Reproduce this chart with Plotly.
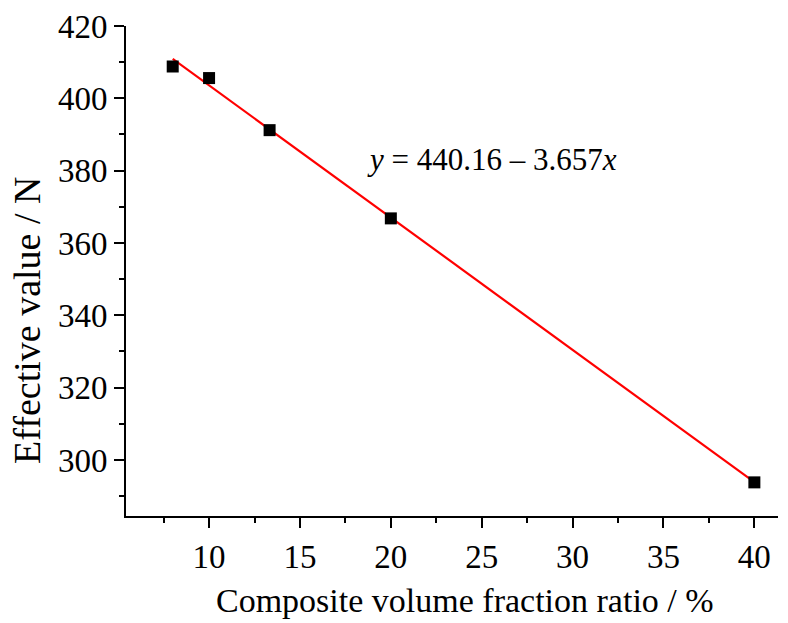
import plotly.graph_objects as go

# Data
x_vals = [8, 10, 13.33, 20, 40]
y_vals = [408.8, 405.6, 391.2, 366.8, 293.8]
intercept = 440.16
slope = -3.657
fit_x = [8, 40]
fit_y = [intercept + slope * v for v in fit_x]
x_ticks = [10, 15, 20, 25, 30, 35, 40]
y_ticks = [300, 320, 340, 360, 380, 400, 420]

FONT = "Liberation Serif, Times New Roman, serif"

fig = go.Figure()
fig.add_trace(go.Scatter(x=fit_x, y=fit_y, mode="lines",
                         line=dict(color="#ff0000", width=2.2), showlegend=False))
fig.add_trace(go.Scatter(x=x_vals, y=y_vals, mode="markers",
                         marker=dict(symbol="square", size=12, color="black"),
                         showlegend=False))

fig.add_annotation(x=0.561, y=0.727, xref="paper", yref="paper",
                   xanchor="center", yanchor="middle",
                   text="<i>y</i> = 440.16 \u2013 3.657<i>x</i>", showarrow=False,
                   font=dict(family=FONT, size=31, color="black"))
fig.add_annotation(x=0.52, y=-0.173, xref="paper", yref="paper",
                   xanchor="center", yanchor="middle",
                   text="Composite volume fraction ratio / %", showarrow=False,
                   font=dict(family=FONT, size=34, color="black"))
fig.add_annotation(x=-0.152, y=0.40, xref="paper", yref="paper", textangle=-90,
                   xanchor="center", yanchor="middle",
                   text="Effective value / N", showarrow=False,
                   font=dict(family=FONT, size=38, color="black"))

axis_common = dict(showline=True, linecolor="black", linewidth=2, showgrid=False,
                   zeroline=False, ticks="outside", ticklen=10, tickwidth=2, tickcolor="black",
                   tickfont=dict(family=FONT, size=33, color="black"), mirror=False,
                   automargin=False)

fig.update_xaxes(range=[5.43, 41.3], tickvals=x_ticks,
                 minor=dict(ticks="outside", ticklen=5, tickwidth=2, tickcolor="black",
                            tickvals=[7.5, 12.5, 17.5, 22.5, 27.5, 32.5, 37.5]),
                 **axis_common)
fig.update_yaxes(range=[284.5, 420], tickvals=y_ticks,
                 minor=dict(ticks="outside", ticklen=5, tickwidth=2, tickcolor="black",
                            tickvals=[290, 310, 330, 350, 370, 390, 410]),
                 **axis_common)

fig.update_layout(width=788, height=623, plot_bgcolor="white", paper_bgcolor="white",
                  margin=dict(l=126, r=10, t=26, b=107))

fig.write_html("out.html", config={"displayModeBar": False},
               post_script="document.body.style.margin='0';document.body.style.overflow='hidden';")
